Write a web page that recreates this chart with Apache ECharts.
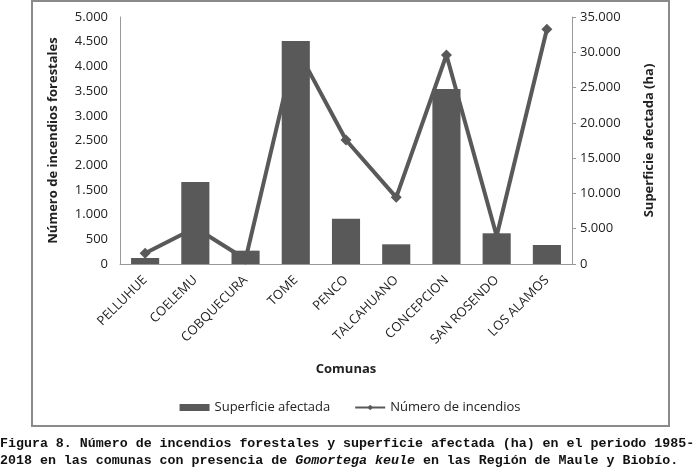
<!DOCTYPE html>
<html>
<head>
<meta charset="utf-8">
<script src="https://cdn.jsdelivr.net/npm/echarts@6/dist/echarts.min.js"></script>
<style>
html,body{margin:0;padding:0;background:#fff;}
#main{width:700px;height:473px;}
</style>
</head>
<body>
<div id="main"></div>
<script>
var categories = ['PELLUHUE','COELEMU','COBQUECURA','TOME','PENCO','TALCAHUANO','CONCEPCION','SAN ROSENDO','LOS ALAMOS'];
var superficie = [850, 11620, 1890, 31600, 6420, 2790, 24800, 4350, 2690];
var incendios = [216, 735, 95, 4400, 2510, 1350, 4231, 567, 4751];
var leftTicks = [0, 500, 1000, 1500, 2000, 2500, 3000, 3500, 4000, 4500, 5000];
var rightTicks = [0, 5000, 10000, 15000, 20000, 25000, 30000, 35000];

function fmt(v){ return String(v).replace(/\B(?=(\d{3})+(?!\d))/g, '.'); }

var FONT = 'Open Sans';
var chart = echarts.init(document.getElementById('main'));
chart.setOption({
  backgroundColor: '#fff',
  animation: false,
  textStyle: {fontFamily: FONT},
  grid: {left: 120, right: 128, top: 17, bottom: 209},
  legend: {
    top: 396, left: 'center', itemGap: 24,
    textStyle: {fontFamily: FONT, fontSize: 13, color: '#222'},
    data: [
      {name: 'Superficie afectada', icon: 'rect', itemStyle: {color: '#595959'}},
      {name: 'Número de incendios'}
    ],
    itemWidth: 30, itemHeight: 7
  },
  xAxis: {
    type: 'category', data: categories,
    name: 'Comunas', nameLocation: 'middle', nameGap: 99,
    nameTextStyle: {fontFamily: FONT, fontSize: 13, fontWeight: 'bold', color: '#222'},
    axisLine: {lineStyle: {color: '#999', width: 1}},
    axisTick: {show: false},
    axisLabel: {rotate: 45, fontFamily: FONT, fontSize: 13, color: '#222', interval: 0, margin: 14}
  },
  yAxis: [
    {
      type: 'value', min: 0, max: 5000, interval: 500,
      name: 'Número de incendios forestales', nameLocation: 'middle', nameGap: 60,
      nameTextStyle: {fontFamily: FONT, fontSize: 13, fontWeight: 'bold', color: '#222'},
      axisLine: {show: true, lineStyle: {color: '#999'}},
      axisTick: {show: false},
      splitLine: {show: false},
      axisLabel: {fontFamily: FONT, fontSize: 13, color: '#222', margin: 12, formatter: function(v){return fmt(v);}}
    },
    {
      type: 'value', min: 0, max: 35000, interval: 5000,
      name: 'Superficie afectada (ha)', nameLocation: 'middle', nameGap: 71, nameRotate: 90,
      nameTextStyle: {fontFamily: FONT, fontSize: 13, fontWeight: 'bold', color: '#222'},
      axisLine: {show: true, lineStyle: {color: '#999'}},
      axisTick: {show: true, length: 4, lineStyle: {color: '#999'}},
      splitLine: {show: false},
      axisLabel: {fontFamily: FONT, fontSize: 13, color: '#222', margin: 8, formatter: function(v){return fmt(v);}}
    }
  ],
  series: [
    {
      name: 'Superficie afectada', type: 'bar', yAxisIndex: 1, data: superficie,
      barCategoryGap: '44%',
      itemStyle: {color: '#595959'}
    },
    {
      name: 'Número de incendios', type: 'line', yAxisIndex: 0, data: incendios,
      symbol: 'diamond', symbolSize: 11,
      lineStyle: {color: '#595959', width: 4},
      itemStyle: {color: '#595959'}
    }
  ],
  graphic: [
    {type: 'rect', shape: {x: 32, y: 1, width: 637, height: 425}, style: {fill: 'none', stroke: '#8a8a8a', lineWidth: 2}, silent: true, z: 100},
    {type: 'text', left: 0, top: 437, style: {
      text: 'Figura 8. Número de incendios forestales y superficie afectada (ha) en el periodo 1985-',
      font: 'bold 13.3px "Liberation Mono", monospace', fill: '#111'}},
    {type: 'text', left: 0, top: 454, style: {
      text: '{n|2018 en las comunas con presencia de }{i|Gomortega keule}{n| en las Región de Maule y Biobío.}',
      rich: {
        n: {font: 'bold 13.3px "Liberation Mono", monospace', fill: '#111'},
        i: {font: 'italic bold 13.3px "Liberation Mono", monospace', fill: '#111'}
      }}}
  ]
});
</script>
</body>
</html>
